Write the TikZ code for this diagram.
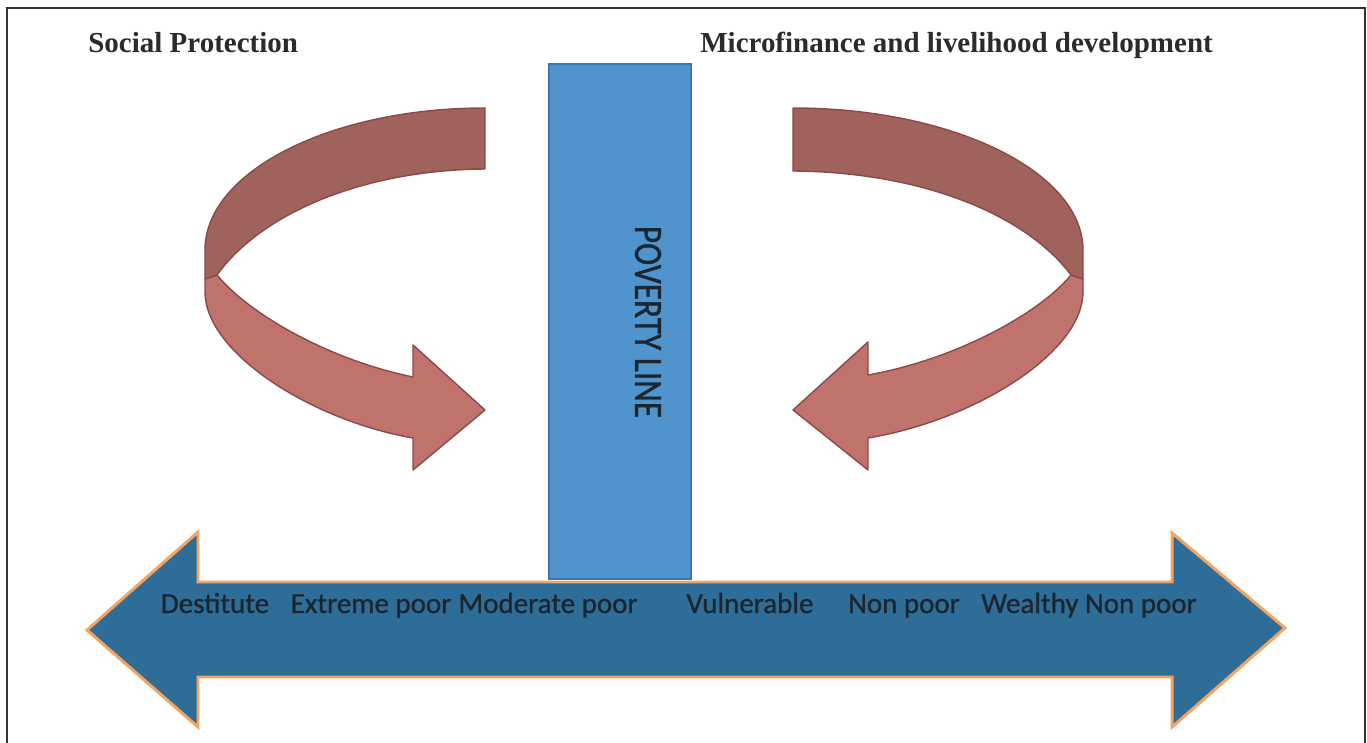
\documentclass[tikz,border=0pt]{standalone}
\usepackage{fontspec}
\setmainfont{Liberation Serif}
\newfontfamily\labelfont[FakeBold=0.9]{Carlito}
\definecolor{ribdark}{HTML}{A0625C}
\definecolor{riblight}{HTML}{C0736D}
\definecolor{ribedge}{HTML}{8A4A47}
\definecolor{barfill}{HTML}{4F94CD}
\definecolor{baredge}{HTML}{3C78AE}
\definecolor{axisfill}{HTML}{2E6D98}
\definecolor{axisedge}{HTML}{F4A460}
\definecolor{labelcol}{HTML}{1C2630}
\definecolor{titlecol}{HTML}{2B2B2B}
\definecolor{framecol}{HTML}{333333}
\begin{document}
\begin{tikzpicture}[x=0.02cm,y=-0.02cm,
  frameline/.style={draw=framecol,line width=1.4pt},
  ribbondark/.style={fill=ribdark,draw=ribedge,line width=0.8pt,line join=round},
  ribbonlight/.style={fill=riblight,draw=ribedge,line width=0.8pt,line join=round},
  barbox/.style={fill=barfill,draw=baredge,line width=1.1pt},
  axisarrow/.style={fill=axisfill,draw=axisedge,line width=1.7pt,line join=miter},
  titletext/.style={font=\fontsize{16.5}{19}\selectfont\bfseries,text=titlecol,inner sep=0pt},
  scaletext/.style={font=\labelfont\fontsize{16.5}{19}\selectfont,text=labelcol,inner sep=0pt,anchor=base}]
\useasboundingbox (0,0) rectangle (1367,743);
\fill[white] (0,0) rectangle (1367,743);
\draw[frameline] (7,745) -- (7,8) -- (1365,8) -- (1365,745);

% titles
\node[titletext,anchor=base west] (sp) at (88,53) {Social Protection};
\node[titletext,anchor=base west] (mf) at (700,53) {Microfinance and livelihood development};

% left curved arrow
\path[ribbonlight] (217,275) -- (205,279) -- (205,292)
  .. controls (205,352) and (310,420) .. (413,438)
  -- (413,470) -- (485,410) -- (413,345) -- (413,377)
  .. controls (330,360) and (250,315) .. (217,275) -- cycle;
\path[ribbondark] (485,108) .. controls (330,108) and (205,172) .. (205,250)
  -- (205,279) -- (217,275)
  .. controls (260,215) and (360,170) .. (485,169) -- cycle;

% right curved arrow (mirror, slightly wider)
\begin{scope}[shift={(1288,0)},xscale=-1]
\path[ribbonlight] (217,275) -- (205,279) -- (205,292)
  .. controls (205,352) and (312,420) .. (420,438)
  -- (420,470) -- (495,410) -- (420,342) -- (420,375)
  .. controls (335,360) and (250,315) .. (217,275) -- cycle;
\path[ribbondark] (495,108) .. controls (335,108) and (205,172) .. (205,250)
  -- (205,279) -- (217,275)
  .. controls (262,215) and (365,172) .. (495,171) -- cycle;
\end{scope}

% poverty line bar
\path[barbox] (549,64) rectangle (691,579);
\node[font=\labelfont\fontsize{19}{22}\selectfont,text=labelcol,rotate=-90,inner sep=0pt] (pl) at (648,322) {\scalebox{1}[1.2]{POVERTY LINE}};

% double arrow
\path[axisarrow] (87,630) -- (198,532) -- (198,582) -- (1172,582) -- (1172,533)
  -- (1285,628) -- (1172,727) -- (1172,677) -- (198,677) -- (198,727) -- cycle;

\node[scaletext] (l1) at (215,613) {Destitute};
\node[scaletext] (l2) at (371,613) {Extreme poor};
\node[scaletext] (l3) at (548,613) {Moderate poor};
\node[scaletext] (l4) at (750,613) {Vulnerable};
\node[scaletext] (l5) at (904,613) {Non poor};
\node[scaletext] (l6) at (1089,613) {Wealthy Non poor};
\end{tikzpicture}
\end{document}
